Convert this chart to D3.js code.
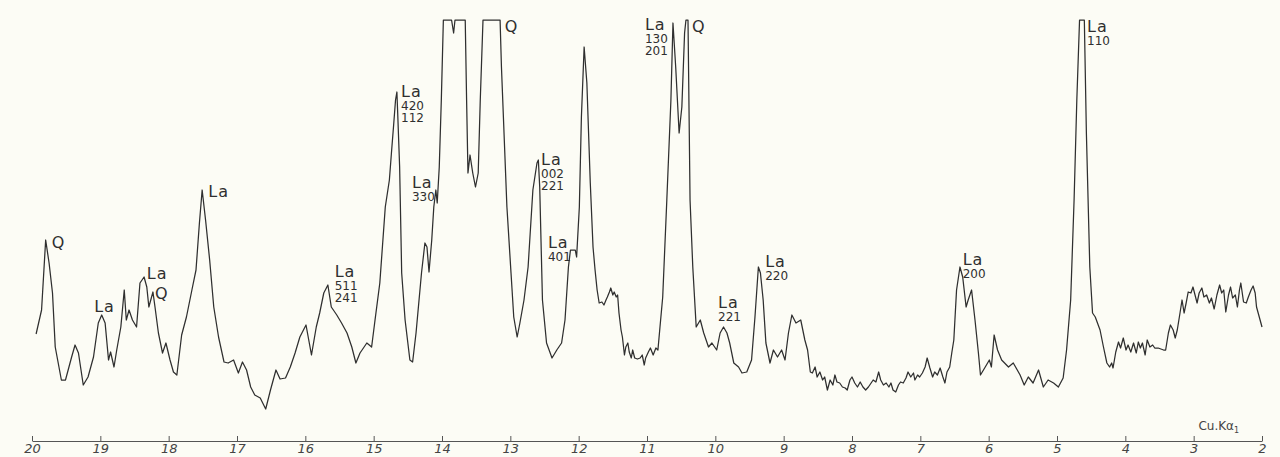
<!DOCTYPE html>
<html>
<head>
<meta charset="utf-8">
<script src="https://cdn.jsdelivr.net/npm/d3@7"></script>
<style>
  html, body { margin: 0; padding: 0; background: #fcfcf5; }
  svg { display: block; }
</style>
</head>
<body>
<svg id="chart" width="1280" height="457"></svg>
<script>
// 2θ (degrees, Cu Kα1) — decreasing left to right
const twoTheta = [19.94,19.86,19.80,19.75,19.70,19.66,19.57,19.51,19.42,19.37,19.32,19.25,19.18,19.10,19.03,18.98,18.93,18.88,18.85,18.80,
18.76,18.70,18.65,18.62,18.58,18.53,18.47,18.42,18.36,18.32,18.29,18.23,18.20,18.15,18.09,18.04,17.98,17.93,17.88,17.81,
17.74,17.66,17.60,17.55,17.51,17.46,17.40,17.34,17.27,17.19,17.13,17.05,16.98,16.92,16.86,16.80,16.74,16.66,16.58,16.51,
16.43,16.37,16.29,16.22,16.15,16.08,15.99,15.91,15.84,15.79,15.73,15.67,15.62,15.54,15.47,15.39,15.32,15.26,15.20,15.10,
15.03,14.98,14.91,14.83,14.77,14.74,14.71,14.68,14.66,14.65,14.62,14.59,14.54,14.47,14.43,14.38,14.30,14.25,14.22,14.19,
14.15,14.12,14.09,14.07,14.04,14.01,13.98,13.86,13.83,13.81,13.66,13.64,13.62,13.59,13.55,13.51,13.47,13.44,13.40,13.15,
13.13,13.05,12.99,12.95,12.90,12.86,12.80,12.74,12.67,12.61,12.59,12.57,12.53,12.47,12.39,12.32,12.25,12.20,12.15,12.12,
12.05,12.03,11.99,11.96,11.92,11.88,11.83,11.79,
11.76,11.73,11.70,11.66,11.63,11.60,11.58,11.55,11.53,11.50,11.48,11.45,11.43,11.41,11.38,11.36,11.33,11.31,11.28,11.26,
11.23,11.21,11.18,11.14,11.10,11.07,11.04,11.02,10.98,10.95,10.91,10.87,10.84,10.81,10.77,
10.71,10.65,10.62,10.58,10.53,10.49,10.45,10.43,10.40,10.37,10.33,10.28,10.22,10.17,10.10,10.05,9.98,
9.93,9.88,9.83,9.79,9.73,9.66,9.61,9.54,9.47,9.42,9.37,9.34,9.30,9.26,9.20,9.15,9.09,9.03,8.98,8.93,
8.88,8.82,8.75,
8.69,8.65,8.61,8.58,8.54,8.51,8.47,8.43,8.40,8.36,8.32,8.28,8.25,8.22,8.18,8.14,8.10,8.07,8.03,8.00,
7.96,7.92,7.88,7.84,7.80,7.76,7.72,7.69,7.65,7.61,7.58,7.54,7.50,7.46,7.43,7.40,7.36,7.32,7.29,7.25,
7.21,7.18,7.14,7.10,7.08,7.04,7.01,6.97,6.93,6.90,6.86,6.82,6.79,6.75,6.71,6.67,6.64,6.61,6.57,6.54,6.51,
6.47,6.42,6.38,6.33,6.30,6.25,6.20,6.15,6.12,6.05,5.99,5.96,5.92,5.87,5.81,5.71,5.64,5.54,5.48,5.42,
5.35,5.27,5.20,5.13,5.05,4.98,4.91,4.86,4.80,4.75,4.71,4.67,4.60,4.57,4.52,4.48,4.44,
4.37,4.32,4.27,4.23,4.20,4.18,4.14,4.10,4.07,4.03,3.99,3.96,3.92,3.88,3.84,3.81,3.78,3.75,3.71,3.68,
3.64,3.60,3.57,3.52,3.44,3.41,3.37,3.34,3.30,3.27,3.24,3.20,3.17,3.14,3.11,3.08,3.04,3.01,2.98,2.95,
2.92,2.88,2.85,2.81,2.77,2.74,2.70,2.66,2.62,2.59,2.56,2.53,2.49,2.46,2.43,2.39,2.36,2.33,2.31,2.27,
2.23,2.20,2.16,2.13,2.10,2.08,2.04,2.00];

// recorded intensity (arbitrary chart units; 400 = pen limit)
const intensity = [86,110,180,157,127,73,40,40,63,75,67,35,43,63,97,105,97,60,68,53,
70,93,130,100,110,100,93,137,143,133,113,128,113,87,67,77,60,48,45,85,
103,130,150,197,230,200,160,113,83,58,57,60,47,58,50,33,25,22,11,30,
50,41,42,53,67,83,95,65,93,107,127,135,113,105,97,87,73,57,67,77,
73,100,137,213,240,267,293,320,328,310,253,147,100,60,58,87,147,177,173,148,
180,213,230,217,253,320,400,400,387,400,400,320,247,265,247,233,247,320,400,400,
353,213,147,103,83,97,120,153,230,257,260,233,120,77,62,70,77,100,153,170,
170,163,213,303,373,337,237,173,
150,130,117,118,115,120,123,128,132,125,128,123,125,107,90,83,65,73,77,68,
62,70,62,61,62,65,55,62,68,72,65,72,70,93,123,
220,320,397,353,287,313,387,400,400,220,153,93,100,87,73,77,70,
87,93,87,77,57,53,47,48,60,103,153,147,120,77,57,70,63,70,60,87,
105,97,100,
80,70,48,47,53,43,48,40,43,30,40,35,45,38,37,33,32,30,40,43,
37,33,38,33,30,33,37,40,38,48,40,35,37,33,37,30,28,35,38,37,
42,48,43,47,40,45,43,47,53,62,52,43,48,45,52,43,37,48,53,67,80,
130,153,143,113,120,130,100,67,45,53,60,53,85,70,60,53,57,45,35,43,
37,50,33,40,37,33,42,70,120,220,320,400,400,287,153,107,103,
90,73,57,53,57,52,68,78,72,82,70,75,68,77,67,78,72,77,65,80,
73,75,72,72,70,70,87,95,90,82,90,107,120,107,117,128,127,133,125,117,
127,132,123,125,117,122,111,125,135,127,130,108,125,133,122,125,113,130,137,118,
117,123,130,134,127,113,103,93];

// axis ticks
const tickValues = [20,19,18,17,16,15,14,13,12,11,10,9,8,7,6,5,4,3,2];

// peak annotations: phase label, 2θ, intensity of label baseline, Miller indices
const labelText  = ["Q","La","La","Q","La","La","La","La","Q","La","La","La","Q","La","La","La","La"];
const labelTheta = [19.71,19.09,18.32,18.20,17.42,15.57,14.60,14.44,13.08,12.55,12.45,11.03,10.34,9.96,9.27,6.38,4.56];
const labelInt   = [172,108,141,121,223,143,323,232,388,255,172,390,388,112,153,155,388];
const labelHkl   = [[],[],[],[],[],["511","241"],["420","112"],["330"],[],["002","221"],["401"],["130","201"],[],["221"],["220"],["200"],["110"]];

const svg = d3.select("#chart");

const x = d3.scaleLinear().domain([20, 2]).range([32, 1262]);
const y = d3.scaleLinear().domain([0, 400]).range([420, 20]);

const ink = "#2f2f2f";

// trace
const n = Math.min(twoTheta.length, intensity.length);
const pts = d3.range(n).map(i => [twoTheta[i], intensity[i]]);
const line = d3.line().x(d => x(d[0])).y(d => y(d[1]));
svg.append("path")
  .datum(pts)
  .attr("d", line)
  .attr("fill", "none")
  .attr("stroke", ink)
  .attr("stroke-width", 1.25)
  .attr("stroke-linejoin", "round");

// axis
const axisY = 441;
const axis = d3.axisBottom(x)
  .tickValues(tickValues)
  .tickFormat(d3.format("d"))
  .tickSizeInner(-5)
  .tickSizeOuter(0)
  .tickPadding(3);
const gAxis = svg.append("g").attr("transform", `translate(0,${axisY})`).call(axis);
gAxis.select(".domain").attr("stroke", "#555").attr("stroke-width", 1.2);
gAxis.selectAll(".tick line").attr("stroke", "#555").attr("stroke-width", 1);
gAxis.selectAll(".tick text")
  .attr("fill", "#444")
  .attr("font-family", "DejaVu Sans, sans-serif")
  .attr("font-style", "italic")
  .attr("font-size", 13);

// radiation label
const rad = svg.append("text")
  .attr("x", x(2.93))
  .attr("y", 430)
  .attr("fill", "#444")
  .attr("font-family", "DejaVu Sans, sans-serif")
  .attr("font-size", 12);
rad.append("tspan").text("Cu.Kα");
rad.append("tspan").attr("font-size", 8).attr("dy", 3).text("1");

// annotations
const gLab = svg.append("g")
  .attr("font-family", "DejaVu Sans, sans-serif")
  .attr("fill", ink);
labelText.forEach((t, i) => {
  const lx = x(labelTheta[i]);
  const ly = y(labelInt[i]);
  gLab.append("text")
    .attr("x", lx).attr("y", ly)
    .attr("font-size", 16)
    .attr("letter-spacing", t === "La" ? 1 : 0)
    .text(t);
  labelHkl[i].forEach((h, j) => {
    gLab.append("text")
      .attr("x", lx).attr("y", ly + 13 + j * 12)
      .attr("font-size", 12)
      .text(h);
  });
});
</script>
</body>
</html>
